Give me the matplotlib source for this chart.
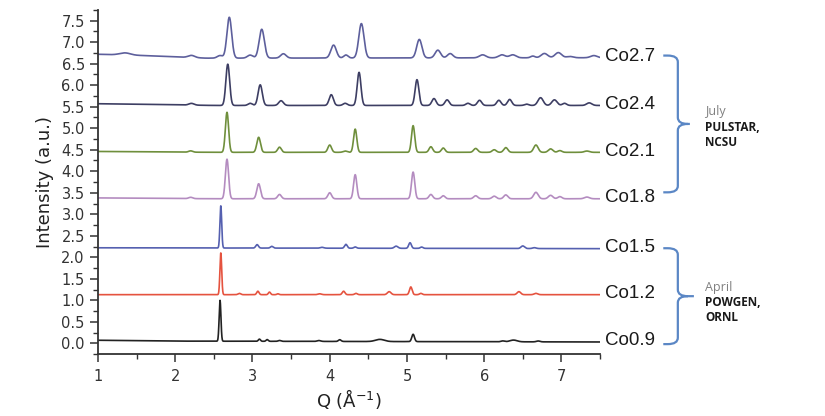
import numpy as np
import matplotlib
matplotlib.use("Agg")
import matplotlib.pyplot as plt
from matplotlib.path import Path
from matplotlib.patches import PathPatch
from matplotlib.transforms import blended_transform_factory

# Sample names, top to bottom
names = ["Co2.7", "Co2.4", "Co2.1", "Co1.8", "Co1.5", "Co1.2", "Co0.9"]
colors = ["#5d5f9c", "#3d3e63", "#6f8f3c", "#b48cc0", "#5560b0", "#e5533f", "#222222"]

# Baseline knots (Q, intensity)
base_27 = [(1.0, 6.72), (1.6, 6.69), (2.4, 6.63), (7.5, 6.64)]
base_24 = [(1.0, 5.57), (1.8, 5.55), (2.5, 5.53), (7.5, 5.53)]
base_21 = [(1.0, 4.46), (2.5, 4.44), (7.5, 4.44)]
base_18 = [(1.0, 3.38), (2.5, 3.36), (7.5, 3.36)]
base_15 = [(1.0, 2.22), (7.5, 2.20)]
base_12 = [(1.0, 1.13), (7.5, 1.13)]
base_09 = [(1.0, 0.07), (2.0, 0.05), (7.5, 0.03)]

# Peaks: (Q position, height above baseline, width)
peaks_27 = [(1.35, 0.05, 0.05), (2.21, 0.05, 0.03), (2.58, 0.06, 0.025), (2.70, 0.95, 0.022),
            (2.97, 0.07, 0.025), (3.12, 0.67, 0.024), (3.40, 0.10, 0.025), (4.05, 0.30, 0.025),
            (4.21, 0.07, 0.02), (4.41, 0.80, 0.024), (5.16, 0.43, 0.024), (5.40, 0.18, 0.025),
            (5.56, 0.10, 0.025), (5.98, 0.07, 0.03), (6.23, 0.07, 0.03), (6.37, 0.07, 0.03),
            (6.63, 0.04, 0.02), (6.78, 0.10, 0.03), (6.96, 0.12, 0.03), (7.11, 0.03, 0.03),
            (7.42, 0.05, 0.03)]
peaks_24 = [(2.21, 0.04, 0.025), (2.68, 0.96, 0.018), (2.97, 0.05, 0.02), (3.10, 0.48, 0.02),
            (3.37, 0.11, 0.022), (4.02, 0.25, 0.02), (4.20, 0.05, 0.02), (4.38, 0.77, 0.018),
            (5.13, 0.60, 0.018), (5.35, 0.16, 0.02), (5.52, 0.13, 0.02), (5.79, 0.05, 0.02),
            (5.94, 0.12, 0.02), (6.19, 0.12, 0.02), (6.33, 0.14, 0.02), (6.55, 0.03, 0.02),
            (6.73, 0.18, 0.025), (6.91, 0.13, 0.025), (7.04, 0.05, 0.02), (7.36, 0.06, 0.025)]
peaks_21 = [(2.20, 0.03, 0.02), (2.67, 0.93, 0.016), (3.08, 0.35, 0.018), (3.35, 0.12, 0.018),
            (4.00, 0.17, 0.018), (4.20, 0.03, 0.02), (4.33, 0.54, 0.016), (5.08, 0.62, 0.016),
            (5.31, 0.13, 0.018), (5.47, 0.10, 0.018), (5.89, 0.09, 0.02), (6.13, 0.06, 0.02),
            (6.28, 0.11, 0.02), (6.67, 0.17, 0.022), (6.86, 0.08, 0.022), (6.98, 0.04, 0.02),
            (7.33, 0.03, 0.025)]
peaks_18 = [(2.20, 0.03, 0.02), (2.67, 0.92, 0.016), (3.08, 0.35, 0.018), (3.35, 0.10, 0.018),
            (4.00, 0.14, 0.018), (4.33, 0.56, 0.016), (5.08, 0.62, 0.016), (5.31, 0.10, 0.018),
            (5.47, 0.07, 0.018), (5.89, 0.07, 0.02), (6.13, 0.06, 0.02), (6.28, 0.09, 0.02),
            (6.67, 0.15, 0.022), (6.86, 0.08, 0.022), (6.98, 0.05, 0.02), (7.33, 0.04, 0.025)]
peaks_15 = [(2.59, 0.98, 0.01), (3.06, 0.08, 0.015), (3.25, 0.04, 0.015), (3.90, 0.02, 0.02),
            (4.21, 0.09, 0.015), (4.33, 0.03, 0.015), (4.86, 0.05, 0.02), (5.04, 0.13, 0.015),
            (5.19, 0.03, 0.015), (6.50, 0.06, 0.02), (6.65, 0.02, 0.02)]
peaks_12 = [(2.59, 0.97, 0.01), (2.83, 0.03, 0.015), (3.07, 0.08, 0.013), (3.22, 0.06, 0.012),
            (3.33, 0.02, 0.012), (3.87, 0.02, 0.02), (4.18, 0.08, 0.015), (4.34, 0.03, 0.015),
            (4.77, 0.07, 0.02), (5.05, 0.18, 0.015), (5.18, 0.03, 0.015), (6.45, 0.07, 0.02),
            (6.67, 0.03, 0.02)]
peaks_09 = [(2.58, 0.95, 0.01), (3.09, 0.05, 0.012), (3.19, 0.04, 0.012), (3.35, 0.02, 0.015),
            (3.86, 0.02, 0.02), (4.13, 0.04, 0.015), (4.65, 0.05, 0.05), (5.08, 0.17, 0.015),
            (6.24, 0.02, 0.02), (6.38, 0.04, 0.04), (6.70, 0.02, 0.02)]

baselines = [base_27, base_24, base_21, base_18, base_15, base_12, base_09]
peak_lists = [peaks_27, peaks_24, peaks_21, peaks_18, peaks_15, peaks_12, peaks_09]

# Peak broadening per sample (the July patterns look wider in the picture)
broadening = [1.4, 1.35, 1.3, 1.3, 1.15, 1.15, 1.15]

# Group annotations next to the curves
groups = [("July", "PULSTAR,", "NCSU"), ("April", "POWGEN,", "ORNL")]


def pattern(q, base, peaks, scale):
    """Build a diffraction profile from baseline knots and a peak list"""
    bq, bi = zip(*base)
    y = np.interp(q, bq, bi)
    for pos, height, width in peaks:
        y = y + height * np.exp(-0.5 * ((q - pos) / (width * scale)) ** 2)
    return y


def brace(ax, y_top, y_bot, tip_x):
    """Draw a square-ish curly bracket to the right of the axes"""
    trans = blended_transform_factory(ax.transAxes, ax.transData)
    x0, x1 = 1.126, 1.155
    rx, ry = 0.02, 0.15
    y_mid = 0.5 * (y_top + y_bot)
    verts = [
        (x0, y_top), (x1 - rx, y_top), (x1, y_top), (x1, y_top - ry),
        (x1, y_mid + ry), (x1, y_mid), (x1 + rx, y_mid), (tip_x, y_mid),
        (x1 + rx, y_mid), (x1, y_mid), (x1, y_mid - ry),
        (x1, y_bot + ry), (x1, y_bot), (x1 - rx, y_bot), (x0, y_bot),
    ]
    codes = [
        Path.MOVETO, Path.LINETO, Path.CURVE3, Path.CURVE3,
        Path.LINETO, Path.CURVE3, Path.CURVE3, Path.LINETO,
        Path.MOVETO, Path.CURVE3, Path.CURVE3,
        Path.LINETO, Path.CURVE3, Path.CURVE3, Path.LINETO,
    ]
    patch = PathPatch(Path(verts, codes), facecolor="none", edgecolor="#5b87c5",
                      lw=1.6, transform=trans, clip_on=False)
    ax.add_patch(patch)


fig = plt.figure(figsize=(8.25, 4.16), dpi=100)
ax = fig.add_axes([0.1188, 0.149, 0.6085, 0.827])

q = np.linspace(1.0, 7.5, 4000)

for name, color, base, peaks, scale in zip(names, colors, baselines, peak_lists, broadening):
    y = pattern(q, base, peaks, scale)
    ax.plot(q, y, color=color, lw=1.2)

    # Sample label at the right end of each curve
    ax.text(7.57, base[-1][1] + 0.03, name, fontsize=13.5, family="Liberation Sans",
            color="#1a1a1a", va="center", ha="left", clip_on=False)

ax.set_xlim(1, 7.5)
ax.set_ylim(-0.25, 7.75)

ax.set_xticks(np.arange(1, 8, 1))
ax.set_xticks(np.arange(1.5, 8, 1), minor=True)
ax.set_yticks(np.arange(0, 7.6, 0.5))
ax.set_yticks(np.arange(-0.25, 7.76, 0.25), minor=True)
ax.set_yticklabels([f"{v:.1f}" for v in np.arange(0, 7.6, 0.5)])

ax.tick_params(which="major", direction="out", length=6, width=1.1, labelsize=10.5,
               colors="#333333", labelcolor="#333333")
ax.tick_params(which="minor", direction="out", length=3.5, width=1.0, colors="#333333")
ax.tick_params(axis="x", pad=5)

for side in ["top", "right"]:
    ax.spines[side].set_visible(False)
for side in ["left", "bottom"]:
    ax.spines[side].set_linewidth(1.3)
    ax.spines[side].set_color("#333333")

ax.set_xlabel(r"Q (Å$^{-1}$)", fontsize=13, color="#222222", labelpad=2)
ax.set_ylabel("Intensity (a.u.)", fontsize=13, color="#222222", labelpad=5)

# Brackets grouping the two measurement campaigns
brace(ax, 6.69, 3.51, 1.179)
brace(ax, 2.21, -0.02, 1.187)

# Group texts
for (month, place, lab), y0 in zip(groups, [0.731, 0.310]):
    fig.text(0.8545, y0, month, fontsize=9, family="Open Sans", color="#808080", va="center")
    fig.text(0.8545, y0 - 0.037, place, fontsize=8.5, family="Open Sans", weight="bold",
             color="#1a1a1a", va="center")
    fig.text(0.8545, y0 - 0.074, lab, fontsize=8.5, family="Open Sans", weight="bold",
             color="#1a1a1a", va="center")

fig.savefig("out.png", dpi=100)
